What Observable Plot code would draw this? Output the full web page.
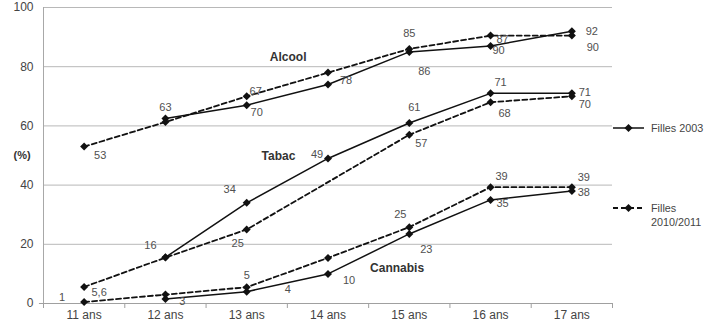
<!DOCTYPE html>
<html><head><meta charset="utf-8">
<script src="https://cdn.jsdelivr.net/npm/d3@7"></script>
<script src="https://cdn.jsdelivr.net/npm/@observablehq/plot@0.6"></script>
<style>
body{margin:0;background:#fff;font-family:"Liberation Sans",Arial,sans-serif;}
#wrap{position:relative;width:710px;height:325px;}
.leg{position:absolute;font-size:10.8px;color:#444;line-height:14px;white-space:nowrap;}
.legsym{position:absolute;}
</style></head><body><div id="wrap"></div>
<script>
// ---- data ----
const ages = ["11 ans","12 ans","13 ans","14 ans","15 ans","16 ans","17 ans"];
const yTicks = [0,20,40,60,80,100];
const years = ["Filles 2003","Filles 2010/2011"];
const substances = ["Alcool","Tabac","Cannabis"];

const alcool2003   = [null, 62.5, 67, 74, 85, 87, 92];
const alcool2010   = [53, 61.3, 70, 78, 86, 90.5, 90.5];
const tabac2003    = [null, 15.6, 34, 49, 61, 71, 71];
const tabac2010    = [5.6, 15.5, 25, null, 57, 68, 70];
const cannabis2003 = [null, 1.5, 4, 10, 23.5, 35, 38];
const cannabis2010 = [0.5, 3, 5.5, 15.4, 25.8, 39.3, 39.3];

const alcool2003Labels   = ["", "63", "70", "78", "86", "90", "92"];
const alcool2010Labels   = ["53", "", "67", "", "85", "87", "90"];
const tabac2003Labels    = ["", "16", "34", "49", "61", "71", "71"];
const tabac2010Labels    = ["5,6", "", "25", "", "57", "68", "70"];
const cannabis2003Labels = ["", "3", "4", "10", "23", "35", "38"];
const cannabis2010Labels = ["1", "", "5", "", "25", "39", "39"];

// ---- label offsets (pixels) ----
const offsets = {
  alcool2003:   [null,[0,-11],[10,7],[18,-4],[15,20],[8,4],[20,0]],
  alcool2010:   [[16,9],null,[9,-5],null,[0,-15],[12,4],[21,12]],
  tabac2003:    [null,[-15,-12],[-17,-13],[-11,-4],[5,-15],[10,-11],[13,-1]],
  tabac2010:    [[15,6],null,[-9,14],null,[12,9],[14,11],[13,8]],
  cannabis2003: [null,[17,2],[41,-2],[21,7],[17,16],[12,4],[12,1]],
  cannabis2010: [[-22,-5],null,[0,-12],null,[-9,-13],[11,-11],[12,-10]]
};

const series = [
  {key:"alcool2003", sub:"Alcool", year:years[0], values:alcool2003, labels:alcool2003Labels},
  {key:"alcool2010", sub:"Alcool", year:years[1], values:alcool2010, labels:alcool2010Labels},
  {key:"tabac2003", sub:"Tabac", year:years[0], values:tabac2003, labels:tabac2003Labels},
  {key:"tabac2010", sub:"Tabac", year:years[1], values:tabac2010, labels:tabac2010Labels},
  {key:"cannabis2003", sub:"Cannabis", year:years[0], values:cannabis2003, labels:cannabis2003Labels},
  {key:"cannabis2010", sub:"Cannabis", year:years[1], values:cannabis2010, labels:cannabis2010Labels}
];

const points = [];
series.forEach(s => s.values.forEach((v,i) => {
  if (v != null) points.push({key:s.key, sub:s.sub, year:s.year, i, v, t:s.labels[i], off:offsets[s.key][i]});
}));

// annotation anchors (data space)
const annotations = [
  {t:"Alcool", i:2.51, v:83.1},
  {t:"Tabac", i:2.39, v:49.7},
  {t:"Cannabis", i:3.85, v:11.8}
];

const boundaries = d3.range(8).map(k => k - 0.5);
const idx = d3.range(ages.length);

const labelMarks = points.filter(p => p.t && p.off).map(p =>
  Plot.text([p], {x:"i", y:"v", text:"t", dx:p.off[0], dy:p.off[1], fill:"#505050", fontSize:11})
);

const chart = Plot.plot({
  width: 710, height: 325,
  marginLeft: 43, marginRight: 98, marginTop: 7, marginBottom: 22,
  style: {fontFamily: "Liberation Sans, Arial, sans-serif", fontSize: "12px", background: "white"},
  x: {type: "linear", domain: [-0.5, 6.5], axis: null},
  y: {domain: [0, 100], axis: null},
  marks: [
    Plot.ruleY(yTicks.slice(1), {x1: -0.5, x2: 6.5, stroke: "#b8b8b8", strokeWidth: 1}),
    Plot.ruleX([-0.5], {y1: 0, y2: 100, stroke: "#a8a8a8"}),
    Plot.ruleY([0], {x1: -0.55, x2: 6.5, stroke: "#a0a0a0"}),
    Plot.axisX(boundaries, {tickSize: 5, tickFormat: () => "", stroke: "#a0a0a0", label: null}),
    Plot.axisX(idx, {tickSize: 0, tickPadding: 7, tickFormat: i => ages[i], fill: "#444", fontSize: 12, label: null}),
    Plot.axisY(yTicks, {tickSize: 0, tickPadding: 10, fill: "#444", fontSize: 12, label: null}),
    Plot.text(["(%)"], {frameAnchor: "left", dx: -30, text: d => d, fontWeight: "bold", fill: "#333", fontSize: 11}),
    Plot.line(points.filter(p => p.year === years[0]), {x: "i", y: "v", z: "sub", stroke: "#111", strokeWidth: 1.5}),
    Plot.line(points.filter(p => p.year === years[1]), {x: "i", y: "v", z: "sub", stroke: "#111", strokeWidth: 1.8, strokeDasharray: "5,3"}),
    Plot.dot(points, {x: "i", y: "v", symbol: "diamond2", r: 3.6, fill: "#111", stroke: "none"}),
    ...labelMarks,
    Plot.text(annotations, {x: "i", y: "v", text: "t", fontWeight: "bold", fill: "#333", fontSize: 12, style: "letter-spacing:1.6px"})
  ]
});

const wrap = document.getElementById("wrap");
wrap.appendChild(chart);
chart.style.position = "absolute"; chart.style.left = "0"; chart.style.top = "0";

// legend (right side)
function legSym(top, dashed) {
  const ns = "http://www.w3.org/2000/svg";
  const svg = document.createElementNS(ns, "svg");
  svg.setAttribute("width", 34); svg.setAttribute("height", 10);
  svg.setAttribute("class", "legsym");
  svg.style.left = "612px"; svg.style.top = (top - 5) + "px";
  const l = document.createElementNS(ns, "line");
  l.setAttribute("x1", 1); l.setAttribute("x2", 32); l.setAttribute("y1", 5); l.setAttribute("y2", 5);
  l.setAttribute("stroke", "#111"); l.setAttribute("stroke-width", dashed ? 1.8 : 1.5);
  if (dashed) l.setAttribute("stroke-dasharray", "5,3");
  svg.appendChild(l);
  const d = document.createElementNS(ns, "path");
  d.setAttribute("d", d3.symbol(d3.symbolDiamond2, 42)());
  d.setAttribute("transform", "translate(16.5,5)");
  d.setAttribute("fill", "#111");
  svg.appendChild(d);
  wrap.appendChild(svg);
}
legSym(128, false);
legSym(208, true);
const l1 = document.createElement("div"); l1.className = "leg";
l1.style.left = "651px"; l1.style.top = "121px"; l1.textContent = years[0];
wrap.appendChild(l1);
const l2 = document.createElement("div"); l2.className = "leg";
l2.style.left = "651px"; l2.style.top = "201px"; l2.innerHTML = "Filles<br>2010/2011";
wrap.appendChild(l2);
</script></body></html>
